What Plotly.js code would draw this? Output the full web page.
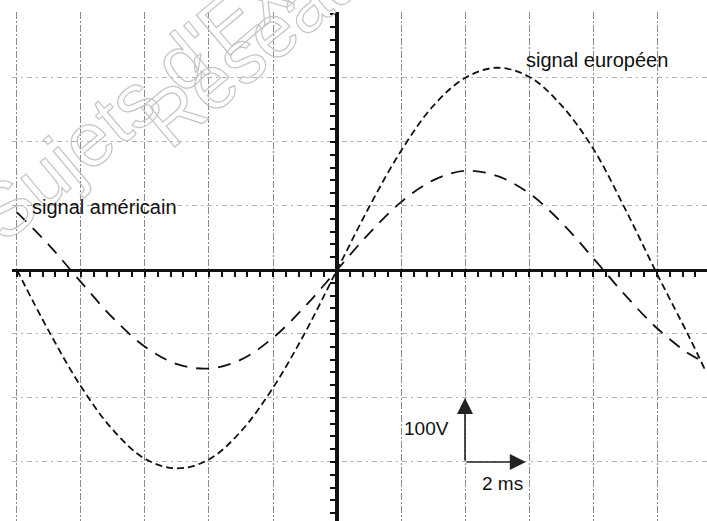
<!DOCTYPE html>
<html>
<head>
<meta charset="utf-8">
<script src="https://cdn.plot.ly/plotly-3.0.1.min.js"></script>
<style>
  html, body { margin: 0; padding: 0; background: #ffffff; }
  #chart { width: 707px; height: 521px; }
</style>
</head>
<body>
<div id="chart"></div>
<script>
// time in ms, voltage in V (1 division = 2 ms / 100 V)
const timeMs     = [-10, -9, -8, -7, -6, -5, -4, -3, -2, -1, 0, 1, 2, 3, 4, 5, 6, 7, 8, 9, 10, 11, 11.5];
const europeanV  = [0, -96, -182, -250, -295, -310, -296, -252, -184, -98, 0, 98, 186, 256, 300, 316, 302, 258, 190, 96, -6, -104, -156];
const americanV  = [90, 39, -19, -75, -120, -147, -154, -140, -106, -57, 0, 57, 106, 140, 155, 147, 120, 75, 19, -39, -91, -131, -144];

const seriesNames = ['signal européen', 'signal américain'];
const gridTimeTicks = [-10, -8, -6, -4, -2, 0, 2, 4, 6, 8, 10];
const gridVoltTicks = [-300, -200, -100, 100, 200, 300];
const scaleLabels = ['100V', '2 ms'];
const watermarkLines = ["Sujets d'Examens", 'Réseau'];

const FONT = 'Liberation Sans, Arial, sans-serif';
const XR = [-10.156, 11.5625];
const YR = [-392.2, 403.1];

const traces = [
  { x: timeMs, y: europeanV, mode: 'lines', name: seriesNames[0],
    line: { color: '#111', width: 1.8, dash: '7px,4px', shape: 'spline', smoothing: 1 },
    hoverinfo: 'skip', showlegend: false },
  { x: timeMs, y: americanV, mode: 'lines', name: seriesNames[1],
    line: { color: '#111', width: 1.8, dash: '13px,9px', shape: 'spline', smoothing: 1 },
    hoverinfo: 'skip', showlegend: false },
  { x: [], y: [], xaxis: 'x2', yaxis: 'y', mode: 'lines', showlegend: false, hoverinfo: 'skip' },
  { x: [], y: [], xaxis: 'x', yaxis: 'y2', mode: 'lines', showlegend: false, hoverinfo: 'skip' }
];

const layout = {
  width: 707, height: 521,
  margin: { l: 12, r: 0, t: 12, b: 0, pad: 0 },
  paper_bgcolor: '#ffffff', plot_bgcolor: '#ffffff',
  showlegend: false,
  font: { family: FONT, color: '#111' },
  xaxis: {
    range: XR, tickmode: 'array', tickvals: gridTimeTicks, showticklabels: false, ticks: '',
    showgrid: true, gridcolor: '#8a8a8a', gridwidth: 1, griddash: '7px,2px,2px,2px',
    zeroline: false, showline: false, fixedrange: true
  },
  yaxis: {
    range: YR, tickmode: 'array', tickvals: gridVoltTicks, showticklabels: false, ticks: '',
    showgrid: true, gridcolor: '#b0b0b0', gridwidth: 1, griddash: '5px,4px,2px,4px',
    zeroline: false, showline: false, fixedrange: true
  },
  xaxis2: {
    overlaying: 'x', anchor: 'free', position: 0.4931, side: 'bottom',
    range: XR, tick0: 0, dtick: 0.4, ticks: 'outside', ticklen: 5, tickwidth: 2, tickcolor: '#111',
    showticklabels: false, showgrid: false, zeroline: false,
    showline: true, linewidth: 3, linecolor: '#111', fixedrange: true
  },
  yaxis2: {
    overlaying: 'y', anchor: 'free', position: 0.4676, side: 'left',
    range: YR, tick0: 0, dtick: 20, ticks: 'outside', ticklen: 5, tickwidth: 2, tickcolor: '#111',
    showticklabels: false, showgrid: false, zeroline: false,
    showline: true, linewidth: 4, linecolor: '#111', fixedrange: true
  },
  annotations: [
    { text: watermarkLines[0], xref: 'paper', yref: 'paper', x: 0.2984, y: 0.9652,
      xanchor: 'center', yanchor: 'middle', showarrow: false, textangle: -40,
      font: { family: FONT, size: 76, color: '#c8c8c8' } },
    { text: watermarkLines[1], xref: 'paper', yref: 'paper', x: 0.3457, y: 0.9295,
      xanchor: 'center', yanchor: 'middle', showarrow: false, textangle: -40,
      font: { family: FONT, size: 75, color: '#c8c8c8' } },
    { text: seriesNames[0], xref: 'x', yref: 'y', x: 8.125, y: 328,
      xanchor: 'center', yanchor: 'middle', showarrow: false,
      font: { family: FONT, size: 20, color: '#111' } },
    { text: seriesNames[1], xref: 'x', yref: 'y', x: -7.28, y: 98,
      xanchor: 'center', yanchor: 'middle', showarrow: false,
      font: { family: FONT, size: 20, color: '#111' } },
    { text: scaleLabels[0], xref: 'x', yref: 'y', x: 2.81, y: -248,
      xanchor: 'center', yanchor: 'middle', showarrow: false,
      font: { family: FONT, size: 19, color: '#111' } },
    { text: scaleLabels[1], xref: 'x', yref: 'y', x: 5.16, y: -334,
      xanchor: 'center', yanchor: 'middle', showarrow: false,
      font: { family: FONT, size: 19, color: '#111' } },
    { text: '', xref: 'x', yref: 'y', x: 4, y: -200, axref: 'x', ayref: 'y', ax: 4, ay: -300,
      showarrow: true, arrowhead: 2, arrowsize: 2, arrowwidth: 1.6, arrowcolor: '#222', standoff: 0 },
    { text: '', xref: 'x', yref: 'y', x: 5.9, y: -300, axref: 'x', ayref: 'y', ax: 4, ay: -300,
      showarrow: true, arrowhead: 2, arrowsize: 2, arrowwidth: 1.6, arrowcolor: '#222', standoff: 0 }
  ]
};

Plotly.newPlot('chart', traces, layout, { displayModeBar: false, staticPlot: true }).then(function () {
  [0, 1].forEach(function (i) {
    const g = document.querySelector('g.annotation[data-index="' + i + '"]');
    if (!g) return;
    g.querySelectorAll('text').forEach(function (t) {
      t.style.fill = 'none';
      t.style.stroke = '#c4c4c4';
      t.style.strokeWidth = '1.2px';
    });
  });
});
</script>
</body>
</html>
